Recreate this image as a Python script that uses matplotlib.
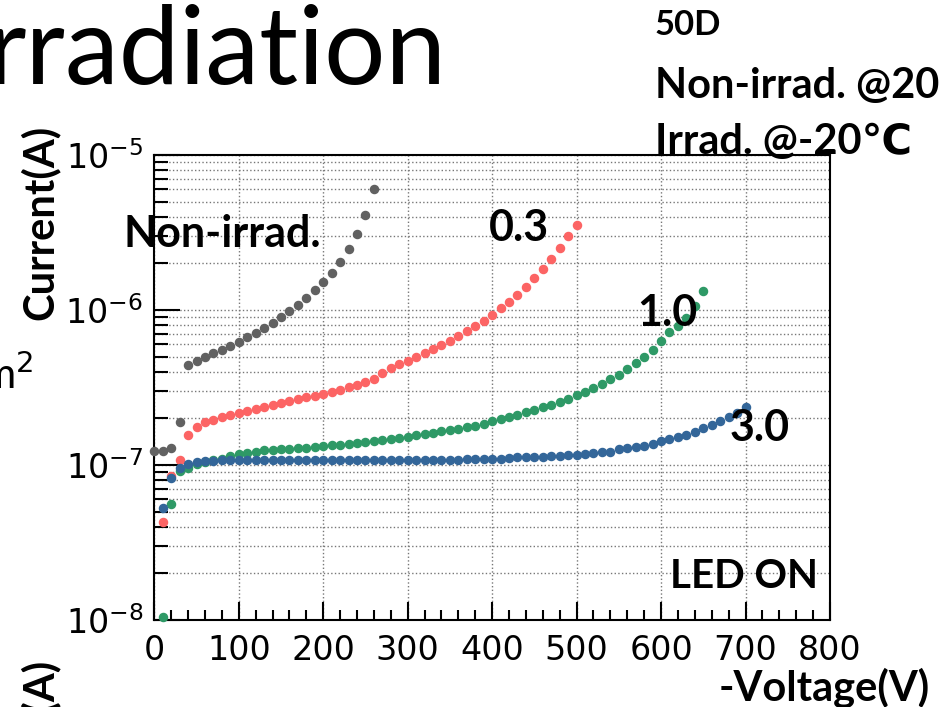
import numpy as np
import matplotlib.pyplot as plt
from matplotlib.ticker import FixedLocator, LogLocator, NullFormatter

plt.rcParams['mathtext.fontset'] = 'custom'
plt.rcParams['mathtext.rm'] = 'Liberation Sans Narrow'
plt.rcParams['mathtext.it'] = 'Liberation Sans Narrow'

# bias voltage (V) for each sample
v_non = np.arange(0, 270, 10)
v_03 = np.arange(10, 510, 10)
v_10 = np.arange(10, 660, 10)
v_30 = np.arange(10, 710, 10)

# leakage current (A), LED on
i_non = [1.23e-7, 1.23e-7, 1.29e-7, 1.89e-7, 4.42e-7, 4.71e-7, 4.98e-7, 5.26e-7, 5.52e-7,
         5.86e-7, 6.22e-7, 6.67e-7, 7.14e-7, 7.66e-7, 8.28e-7, 9.01e-7, 9.86e-7, 1.08e-6,
         1.20e-6, 1.34e-6, 1.51e-6, 1.74e-6, 2.04e-6, 2.47e-6, 3.08e-6, 4.10e-6, 6.01e-6]
i_03 = [4.27e-8, 8.49e-8, 1.08e-7, 1.56e-7, 1.75e-7, 1.88e-7, 1.94e-7, 2.03e-7, 2.10e-7,
        2.17e-7, 2.23e-7, 2.31e-7, 2.36e-7, 2.44e-7, 2.52e-7, 2.58e-7, 2.65e-7, 2.73e-7,
        2.80e-7, 2.87e-7, 2.94e-7, 3.05e-7, 3.17e-7, 3.28e-7, 3.43e-7, 3.60e-7, 3.91e-7,
        4.21e-7, 4.49e-7, 4.67e-7, 4.95e-7, 5.26e-7, 5.57e-7, 5.94e-7, 6.31e-7, 6.80e-7,
        7.35e-7, 7.92e-7, 8.53e-7, 9.29e-7, 1.03e-6, 1.13e-6, 1.25e-6, 1.40e-6, 1.60e-6,
        1.84e-6, 2.14e-6, 2.50e-6, 3.00e-6, 3.53e-6]
i_10 = [1.04e-8, 5.60e-8, 9.10e-8, 9.61e-8, 1.01e-7, 1.04e-7, 1.07e-7, 1.10e-7, 1.14e-7,
        1.18e-7, 1.19e-7, 1.21e-7, 1.24e-7, 1.25e-7, 1.26e-7, 1.27e-7, 1.28e-7, 1.29e-7,
        1.31e-7, 1.32e-7, 1.34e-7, 1.35e-7, 1.37e-7, 1.39e-7, 1.41e-7, 1.42e-7, 1.44e-7,
        1.46e-7, 1.49e-7, 1.52e-7, 1.55e-7, 1.58e-7, 1.61e-7, 1.65e-7, 1.68e-7, 1.71e-7,
        1.77e-7, 1.79e-7, 1.85e-7, 1.92e-7, 1.97e-7, 2.03e-7, 2.10e-7, 2.19e-7, 2.26e-7,
        2.36e-7, 2.45e-7, 2.56e-7, 2.68e-7, 2.83e-7, 2.97e-7, 3.15e-7, 3.35e-7, 3.57e-7,
        3.83e-7, 4.14e-7, 4.52e-7, 4.95e-7, 5.51e-7, 6.31e-7, 7.16e-7, 7.88e-7, 8.91e-7,
        1.06e-6, 1.33e-6]
i_30 = [5.26e-8, 8.20e-8, 9.61e-8, 1.02e-7, 1.04e-7, 1.06e-7, 1.06e-7, 1.07e-7, 1.07e-7,
        1.07e-7, 1.07e-7, 1.07e-7, 1.07e-7, 1.07e-7, 1.07e-7, 1.07e-7, 1.07e-7, 1.07e-7,
        1.07e-7, 1.07e-7, 1.07e-7, 1.07e-7, 1.07e-7, 1.07e-7, 1.07e-7, 1.08e-7, 1.08e-7,
        1.08e-7, 1.08e-7, 1.08e-7, 1.08e-7, 1.08e-7, 1.08e-7, 1.08e-7, 1.08e-7, 1.08e-7,
        1.10e-7, 1.10e-7, 1.10e-7, 1.10e-7, 1.10e-7, 1.11e-7, 1.12e-7, 1.13e-7, 1.13e-7,
        1.13e-7, 1.14e-7, 1.15e-7, 1.16e-7, 1.16e-7, 1.18e-7, 1.20e-7, 1.21e-7, 1.22e-7,
        1.26e-7, 1.28e-7, 1.31e-7, 1.33e-7, 1.37e-7, 1.42e-7, 1.47e-7, 1.52e-7, 1.56e-7,
        1.63e-7, 1.74e-7, 1.82e-7, 1.91e-7, 2.03e-7, 2.17e-7, 2.36e-7]

xticks = [0, 100, 200, 300, 400, 500, 600, 700, 800]
yticks = [1e-8, 1e-7, 1e-6, 1e-5]
ylabels = [r'$10^{-8}$', r'$10^{-7}$', r'$10^{-6}$', r'$10^{-5}$']

fig = plt.figure(figsize=(9.41, 7.07), dpi=100)
ax = fig.add_axes([0.164, 0.123, 0.718, 0.658])

ms = 34
ax.scatter(v_non, i_non, s=ms, c='#616161', clip_on=False, zorder=3)
ax.scatter(v_03, i_03, s=ms, c='#fc6464', clip_on=False, zorder=3)
ax.scatter(v_10, i_10, s=ms, c='#2e9966', clip_on=False, zorder=3)
ax.scatter(v_30, i_30, s=ms, c='#336699', clip_on=False, zorder=3)

ax.set_yscale('log')
ax.set_xlim(0, 800)
ax.set_ylim(1e-8, 1e-5)
ax.set_xticks(xticks)
ax.xaxis.set_minor_locator(FixedLocator(np.arange(0, 801, 20)))
ax.set_yticks(yticks)
ax.set_yticklabels(ylabels)
ax.yaxis.set_minor_locator(LogLocator(base=10, subs=np.arange(2, 10)))
ax.yaxis.set_minor_formatter(NullFormatter())

ax.tick_params(which='both', direction='in', width=1.5, colors='black')
ax.tick_params(axis='x', which='major', length=13, labelsize=24, pad=10)
ax.tick_params(axis='x', which='minor', length=7)
ax.tick_params(axis='y', which='major', length=19, labelsize=24, pad=8)
ax.tick_params(axis='y', which='minor', length=10)
for lab in ax.get_xticklabels():
    lab.set_family(['Liberation Sans Narrow', 'DejaVu Sans'])
for sp in ax.spines.values():
    sp.set_linewidth(1.5)

ax.grid(True, which='major', axis='x', ls=':', color='#777777', lw=1)
ax.grid(True, which='both', axis='y', ls=':', color='#777777', lw=1)
ax.set_axisbelow(True)

bold = dict(family=['Lato', 'DejaVu Sans'], weight='bold', color='black')
ax.text(80, 3.1e-6, 'Non-irrad.', fontsize=31, ha='center', va='center', **bold)
ax.text(432, 3.35e-6, '0.3', fontsize=31, ha='center', va='center', **bold)
ax.text(607, 9.5e-7, '1.0', fontsize=31, ha='center', va='center', **bold)
ax.text(717, 1.72e-7, '3.0', fontsize=31, ha='center', va='center', **bold)
ax.text(786, 1.9e-8, 'LED ON', fontsize=29, ha='right', va='center', **bold)

fig.text(0.988, 0.028, '-Voltage(V)', fontsize=30, ha='right', va='center', **bold)
fig.text(0.042, 0.686, 'Current(A)', fontsize=30, rotation=90, ha='center', va='center', **bold)
fig.text(0.042, 0.068, 'Current(A)', fontsize=30, rotation=90, ha='center', va='top', **bold)

fig.text(0.696, 0.965, '50D', fontsize=25, ha='left', va='center', **bold)
fig.text(0.696, 0.878, 'Non-irrad. @20\u2103', fontsize=30, ha='left', va='center', **bold)
fig.text(0.696, 0.799, 'Irrad. @-20\u2103', fontsize=30, ha='left', va='center', **bold)

fig.text(-0.014, 0.925, 'rradiation', fontsize=78, ha='left', va='center',
         family=['Lato', 'DejaVu Sans'], weight='normal')
fig.text(-0.02, 0.47, 'm$^2$', fontsize=30, ha='left', va='center',
         family=['Lato', 'DejaVu Sans'])

fig.savefig('out.png', dpi=100)
